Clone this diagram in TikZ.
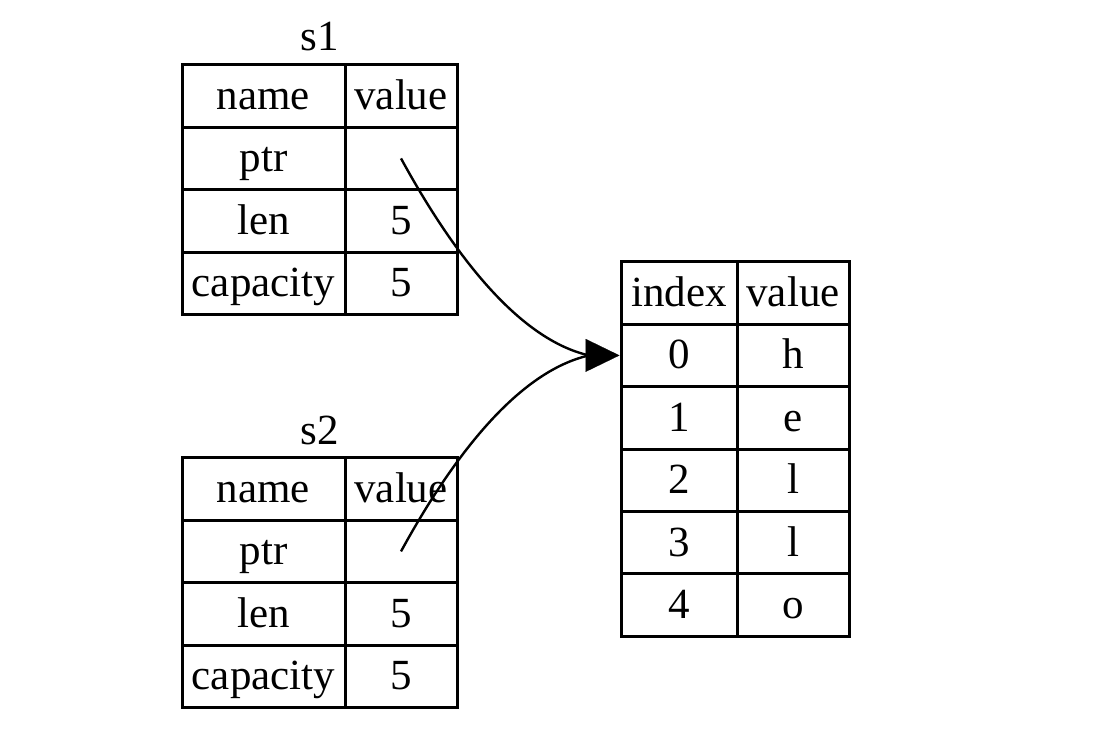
\documentclass[tikz,border=0pt]{standalone}
\usepackage{fontspec}
\setmainfont{Liberation Serif}
\usetikzlibrary{arrows.meta}
\begin{document}
\begin{tikzpicture}[x=0.5pt,y=-0.5pt,
  cell/.style={draw=black,line width=1.5pt,rectangle,inner sep=0pt,minimum height=31.2pt,
    font=\fontsize{21.5}{25}\selectfont,text height=16pt,text depth=2.5pt},
  namecol/.style={cell,minimum width=81.5pt},
  valcol/.style={cell,minimum width=56pt},
  idxcol/.style={cell,minimum width=58pt},
  title/.style={font=\fontsize{21.5}{25}\selectfont,inner sep=0pt},
  ptr/.style={line width=1.2pt},
  tip/.style={line width=0.1pt,-{Triangle[length=17pt,width=16.5pt]}}]
\useasboundingbox (0,0) rectangle (1106,734);
% s1
\node[title] (s1t) at (320,37) {s1};
\node[namecol] (s1h) at (263.5,96) {name};
\node[valcol] (s1hv) at (401,96) {value};
\node[namecol] (s1p) at (263.5,158.4) {ptr};
\node[valcol] (s1pv) at (401,158.4) {};
\node[namecol] (s1l) at (263.5,220.8) {len};
\node[valcol] (s1lv) at (401,220.8) {5};
\node[namecol] (s1c) at (263.5,283.2) {capacity};
\node[valcol] (s1cv) at (401,283.2) {5};
% s2
\node[title] (s2t) at (320,430) {s2};
\node[namecol] (s2h) at (263.5,489) {name};
\node[valcol] (s2hv) at (401,489) {value};
\node[namecol] (s2p) at (263.5,551.4) {ptr};
\node[valcol] (s2pv) at (401,551.4) {};
\node[namecol] (s2l) at (263.5,613.8) {len};
\node[valcol] (s2lv) at (401,613.8) {5};
\node[namecol] (s2c) at (263.5,676.2) {capacity};
\node[valcol] (s2cv) at (401,676.2) {5};
% heap
\node[idxcol] (rh) at (679,293) {index};
\node[valcol] (rhv) at (793,293) {value};
\node[idxcol] (r0) at (679,355.4) {0};
\node[valcol] (r0v) at (793,355.4) {h};
\node[idxcol] (r1) at (679,417.8) {1};
\node[valcol] (r1v) at (793,417.8) {e};
\node[idxcol] (r2) at (679,480.2) {2};
\node[valcol] (r2v) at (793,480.2) {l};
\node[idxcol] (r3) at (679,542.6) {3};
\node[valcol] (r3v) at (793,542.6) {l};
\node[idxcol] (r4) at (679,605) {4};
\node[valcol] (r4v) at (793,605) {o};
% pointers
\coordinate (base) at (589,355.4);
\draw[ptr] (s1pv.center) .. controls +(53,97) and +(-70,-16) .. (base);
\draw[ptr] (s2pv.center) .. controls +(53,-97) and +(-70,16) .. (base);
\draw[tip] (base) -- (r0.west);
\end{tikzpicture}
\end{document}
